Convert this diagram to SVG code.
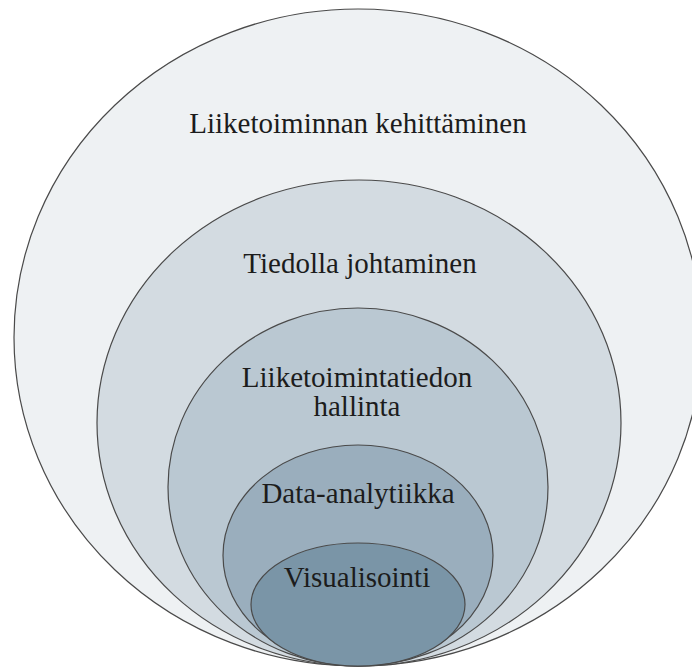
<svg xmlns="http://www.w3.org/2000/svg" width="692" height="668" viewBox="0 0 692 668">
  <style>
    .ring { stroke: #4a4a4a; stroke-width: 1.2; }
    text { font-family: 'Liberation Serif', Tinos, 'Times New Roman', Times, 'Nimbus Roman', 'Nimbus Roman No9 L', 'Noto Serif', 'DejaVu Serif', FreeSerif, serif; font-size: 29px; fill: #1c1c1c; text-anchor: middle; }
  </style>
  <rect width="692" height="668" fill="#ffffff"/>
  <g id="liiketoiminnan-kehittaminen">
    <ellipse class="ring" cx="358" cy="337.5" rx="344" ry="328.5" fill="#eef1f3"/>
    <text x="358" y="133">Liiketoiminnan kehittäminen</text>
  </g>
  <g id="tiedolla-johtaminen">
    <ellipse class="ring" cx="359" cy="423" rx="262" ry="243" fill="#d3dbe1"/>
    <text x="360" y="273">Tiedolla johtaminen</text>
  </g>
  <g id="liiketoimintatiedon-hallinta">
    <ellipse class="ring" cx="358" cy="487" rx="190" ry="179" fill="#bac8d2"/>
    <text x="357" y="387">Liiketoimintatiedon</text>
    <text x="357" y="416">hallinta</text>
  </g>
  <g id="data-analytiikka">
    <ellipse class="ring" cx="358" cy="555.5" rx="135" ry="110.5" fill="#9aaebd"/>
    <text x="358" y="503">Data-analytiikka</text>
  </g>
  <g id="visualisointi">
    <ellipse class="ring" cx="358" cy="604.5" rx="107" ry="61.5" fill="#7a95a7"/>
    <text x="357" y="587">Visualisointi</text>
  </g>
  <g id="connectors"/>
</svg>
